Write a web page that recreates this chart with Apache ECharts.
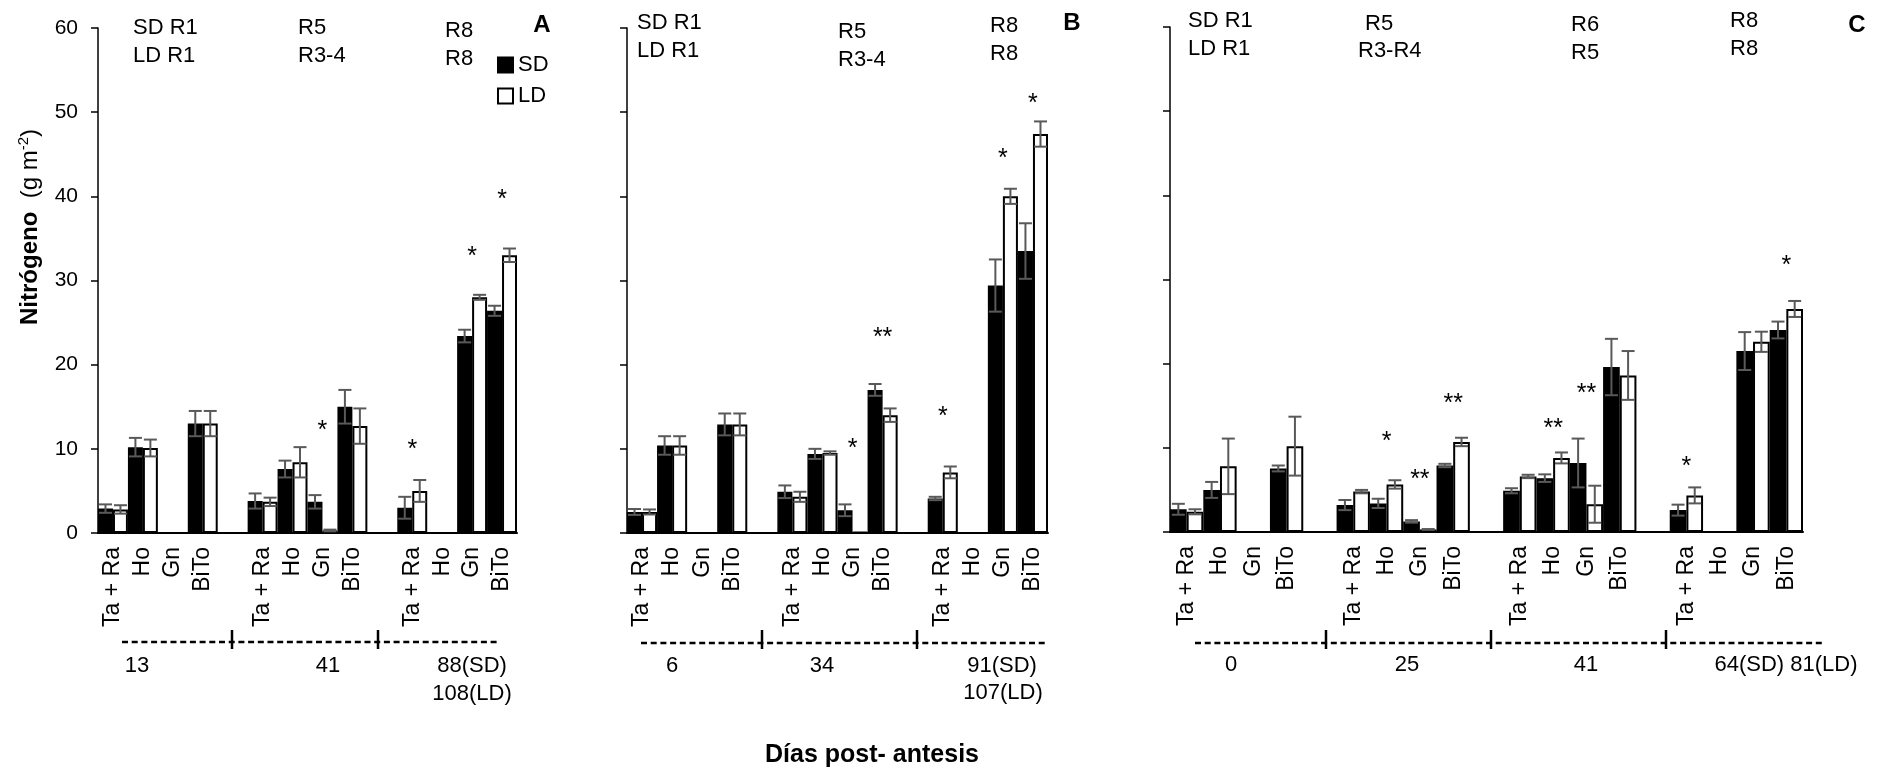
<!DOCTYPE html>
<html>
<head>
<meta charset="utf-8">
<title>Nitrógeno por órgano</title>
<script src="https://cdn.jsdelivr.net/npm/echarts/dist/echarts.min.js"></script>
<style>
  html, body { margin: 0; padding: 0; background: #fff; }
  #chart { width: 1879px; height: 769px; }
</style>
</head>
<body>
<div id="chart"></div>
<script>
// categorias (los huecos separan las fechas de muestreo)
var catsAB = ['Ta + Ra', 'Ho', 'Gn', 'BiTo', '', 'Ta + Ra', 'Ho', 'Gn', 'BiTo', '', 'Ta + Ra', 'Ho', 'Gn', 'BiTo'];
var catsC = ['Ta + Ra', 'Ho', 'Gn', 'BiTo', '', 'Ta + Ra', 'Ho', 'Gn', 'BiTo', '', 'Ta + Ra', 'Ho', 'Gn', 'BiTo', '', 'Ta + Ra', 'Ho', 'Gn', 'BiTo'];
var yTicks = [0, 10, 20, 30, 40, 50, 60];

// panel A
var sdA    = [2.9, 10.2, 0, 13.0, null, 3.8, 7.6, 3.7, 15.0, null, 3.0, 0, 23.4, 26.4];
var sdAErr = [0.5, 1.1, 0, 1.5, 0, 0.9, 1.0, 0.8, 2.0, 0, 1.3, 0, 0.75, 0.6];
var ldA    = [2.8, 10.1, 0, 13.0, null, 3.7, 8.4, 0.3, 12.7, null, 5.0, 0, 28.0, 33.0];
var ldAErr = [0.5, 1.0, 0, 1.5, 0, 0.5, 1.8, 0.1, 2.1, 0, 1.3, 0, 0.3, 0.8];
var starsA = [[7, 12.7, '*'], [10, 10.5, '*'], [12, 33.4, '*'], [13, 40.1, '*']];

// panel B
var sdB    = [2.5, 10.4, 0, 12.9, null, 4.9, 9.4, 2.7, 17.0, null, 4.1, 0, 29.4, 33.5];
var sdBErr = [0.35, 1.1, 0, 1.3, 0, 0.75, 0.6, 0.7, 0.7, 0, 0.2, 0, 3.1, 3.3];
var ldB    = [2.5, 10.4, 0, 12.9, null, 4.3, 9.5, 0.1, 14.0, null, 7.2, 0, 40.0, 47.4];
var ldBErr = [0.3, 1.1, 0, 1.3, 0, 0.6, 0.2, 0, 0.8, 0, 0.7, 0, 0.9, 1.5];
var starsB = [[7, 10.6, '*'], [8, 23.8, '**'], [10, 14.4, '*'], [12, 45.0, '*'], [13, 51.6, '*']];

// panel C
var sdC    = [2.7, 5.0, 0, 7.55, null, 3.2, 3.4, 1.26, 7.9, null, 4.9, 6.4, 8.2, 19.6, null, 2.6, 0, 21.5, 24.0];
var sdCErr = [0.65, 0.95, 0, 0.35, 0, 0.6, 0.55, 0.15, 0.2, 0, 0.3, 0.45, 2.9, 3.35, 0, 0.65, 0, 2.25, 1.0];
var ldC    = [2.4, 7.8, 0, 10.2, null, 4.8, 5.65, 0.3, 10.7, null, 6.6, 8.8, 3.3, 18.6, null, 4.35, 0, 22.6, 26.5];
var ldCErr = [0.3, 3.3, 0, 3.5, 0, 0.2, 0.5, 0.05, 0.5, 0, 0.2, 0.65, 2.2, 2.9, 0, 0.95, 0, 1.2, 0.95];
var starsC = [[6, 11.3, '*'], [7, 6.7, '**'], [8, 15.8, '**'], [11, 12.8, '**'], [12, 17.0, '**'], [15, 8.3, '*'], [18, 32.2, '*']];

// textos
var stageA = ['SD R1', 'LD R1', 'R5', 'R3-4', 'R8', 'R8'];
var stageB = ['SD R1', 'LD R1', 'R5', 'R3-4', 'R8', 'R8'];
var stageC = ['SD R1', 'LD R1', 'R5', 'R3-R4', 'R6', 'R5', 'R8', 'R8'];
var daysA = ['13', '41', '88(SD)', '108(LD)'];
var daysB = ['6', '34', '91(SD)', '107(LD)'];
var daysC = ['0', '25', '41', '64(SD) 81(LD)'];
var panelNames = ['A', 'B', 'C'];

// posiciones de las anotaciones (px)
var stagePosA = [[133, 28], [133, 56], [298, 28], [298, 56], [445, 31], [445, 59]];
var stagePosB = [[637, 23], [637, 51], [838, 32], [838, 60], [990, 26], [990, 54]];
var stagePosC = [[1188, 21], [1188, 49], [1365, 24], [1358, 51], [1571, 25], [1571, 53], [1730, 21], [1730, 49]];
var daysPosA = [[137, 666], [328, 666], [472, 666], [472, 694]];
var daysPosB = [[672, 666], [822, 666], [1002, 666], [1003, 693]];
var daysPosC = [[1231, 665], [1407, 665], [1586, 665], [1786, 665]];
var letterPos = [[542, 25], [1072, 23], [1857, 25]];
var dashLines = [[122, 497, 642], [641, 1047, 643], [1195, 1824, 643]];
var seps = [[232, 378], [762, 917], [1326, 1491, 1666]];

var FONT = 'Liberation Sans, Arial, sans-serif';

function errData(vals, errs, side) {
  var out = [];
  for (var i = 0; i < vals.length; i++) {
    if (vals[i] != null && errs[i] > 0) out.push([i, vals[i], errs[i], side]);
  }
  return out;
}

function renderErr(params, api) {
  var idx = api.value(0), v = api.value(1), e = api.value(2), side = api.value(3);
  var w = api.size([1, 0])[0];
  var c = api.coord([idx, v]);
  var x = c[0] + (side ? w / 4 : -w / 4);
  var top = api.coord([idx, v + e])[1];
  var bot = api.coord([idx, Math.max(v - e, 0)])[1];
  var cap = 6.5;
  var st = { stroke: '#595959', lineWidth: 2 };
  return {
    type: 'group',
    children: [
      { type: 'line', shape: { x1: x, y1: top, x2: x, y2: bot }, style: st },
      { type: 'line', shape: { x1: x - cap, y1: top, x2: x + cap, y2: top }, style: st },
      { type: 'line', shape: { x1: x - cap, y1: bot, x2: x + cap, y2: bot }, style: st }
    ]
  };
}

function starSeries(stars, k) {
  return {
    type: 'custom',
    xAxisIndex: k, yAxisIndex: k,
    z: 4,
    data: stars.map(function (s) { return [s[0], s[1]]; }),
    encode: { x: 0, y: 1 },
    renderItem: function (params, api) {
      var p = api.coord([api.value(0), api.value(1)]);
      return {
        type: 'text', x: p[0], y: p[1] + 5,
        style: { text: stars[params.dataIndex][2], fill: '#000', fontSize: 25, fontFamily: FONT, align: 'center', verticalAlign: 'middle' }
      };
    }
  };
}

var grids = [
  { left: 98, top: 28, width: 419, height: 505 },
  { left: 627, top: 28, width: 421, height: 505 },
  { left: 1170, top: 27, width: 633, height: 505 }
];
var cats = [catsAB, catsAB, catsC];
var panels = [
  [sdA, sdAErr, ldA, ldAErr, starsA],
  [sdB, sdBErr, ldB, ldBErr, starsB],
  [sdC, sdCErr, ldC, ldCErr, starsC]
];

var xAxes = [], yAxes = [], series = [];
for (var k = 0; k < 3; k++) {
  xAxes.push({
    type: 'category', gridIndex: k, data: cats[k],
    axisLine: { lineStyle: { color: '#000', width: 2 } },
    axisTick: { interval: 0, length: 7, lineStyle: { color: '#000', width: 1.5 } },
    axisLabel: { interval: 0, rotate: 90, margin: 14, color: '#000', fontSize: 23, fontFamily: FONT }
  });
  yAxes.push({
    type: 'value', gridIndex: k, min: 0, max: yTicks[yTicks.length - 1], interval: 10,
    splitLine: { show: false },
    axisLine: { show: true, lineStyle: { color: '#000', width: 1.5 } },
    axisTick: { show: true, length: 7, lineStyle: { color: '#000', width: 1.5 } },
    axisLabel: { show: k === 0, margin: 20, color: '#000', fontSize: 21, fontFamily: FONT }
  });
  var p = panels[k];
  series.push({
    name: 'SD', type: 'bar', xAxisIndex: k, yAxisIndex: k, data: p[0],
    barGap: '0%', barCategoryGap: '0%',
    itemStyle: { color: '#000', borderColor: '#000', borderWidth: 1.5 }
  });
  series.push({
    name: 'LD', type: 'bar', xAxisIndex: k, yAxisIndex: k, data: p[2],
    barGap: '0%', barCategoryGap: '0%',
    itemStyle: { color: '#fff', borderColor: '#000', borderWidth: 2 }
  });
  series.push({
    type: 'custom', xAxisIndex: k, yAxisIndex: k, z: 3,
    data: errData(p[0], p[1], 0).concat(errData(p[2], p[3], 1)),
    encode: { x: 0, y: 1 },
    renderItem: renderErr
  });
  series.push(starSeries(p[4], k));
}

var graphic = [];
function addText(txt, x, y, opts) {
  var st = { text: txt, fill: '#000', fontSize: 22, fontFamily: FONT, align: 'left', verticalAlign: 'middle' };
  for (var key in opts) st[key] = opts[key];
  graphic.push({ type: 'text', x: x, y: y, style: st, silent: true });
}
[[stageA, stagePosA], [stageB, stagePosB], [stageC, stagePosC]].forEach(function (pair) {
  pair[0].forEach(function (t, i) { addText(t, pair[1][i][0], pair[1][i][1]); });
});
[[daysA, daysPosA], [daysB, daysPosB], [daysC, daysPosC]].forEach(function (pair) {
  pair[0].forEach(function (t, i) { addText(t, pair[1][i][0], pair[1][i][1], { align: 'center' }); });
});
panelNames.forEach(function (t, i) {
  addText(t, letterPos[i][0], letterPos[i][1], { align: 'center', fontSize: 24, fontWeight: 'bold' });
});
dashLines.forEach(function (d) {
  graphic.push({ type: 'line', silent: true, shape: { x1: d[0], y1: d[2], x2: d[1], y2: d[2] },
    style: { stroke: '#000', lineWidth: 2.5, lineDash: [6, 3.7] } });
});
seps.forEach(function (row) {
  row.forEach(function (x) {
    graphic.push({ type: 'line', silent: true, shape: { x1: x, y1: 630, x2: x, y2: 649 },
      style: { stroke: '#000', lineWidth: 2.5 } });
  });
});
// titulo del eje Y
graphic.push({
  type: 'text', x: 30, y: 227, rotation: Math.PI / 2, silent: true,
  style: {
    text: '{b|Nitrógeno}{n|  (g m}{s|-2}{n|)}',
    align: 'center', verticalAlign: 'middle',
    rich: {
      b: { fontSize: 24, fontWeight: 'bold', fontFamily: FONT, fill: '#000', lineHeight: 28 },
      n: { fontSize: 24, fontFamily: FONT, fill: '#000', lineHeight: 28 },
      s: { fontSize: 15, fontFamily: FONT, fill: '#000', lineHeight: 28, verticalAlign: 'top' }
    }
  }
});
// titulo del eje X
addText('Días post- antesis', 872, 755, { align: 'center', fontSize: 25, fontWeight: 'bold' });

var myChart = echarts.init(document.getElementById('chart'));
myChart.setOption({
  animation: false,
  backgroundColor: '#fff',
  grid: grids,
  xAxis: xAxes,
  yAxis: yAxes,
  legend: {
    data: ['SD', 'LD'], orient: 'vertical', left: 492, top: 49, icon: 'rect',
    itemWidth: 15, itemHeight: 15, itemGap: 9, selectedMode: false,
    textStyle: { fontSize: 22, color: '#000', fontFamily: FONT }
  },
  series: series,
  graphic: graphic
});
</script>
</body>
</html>
